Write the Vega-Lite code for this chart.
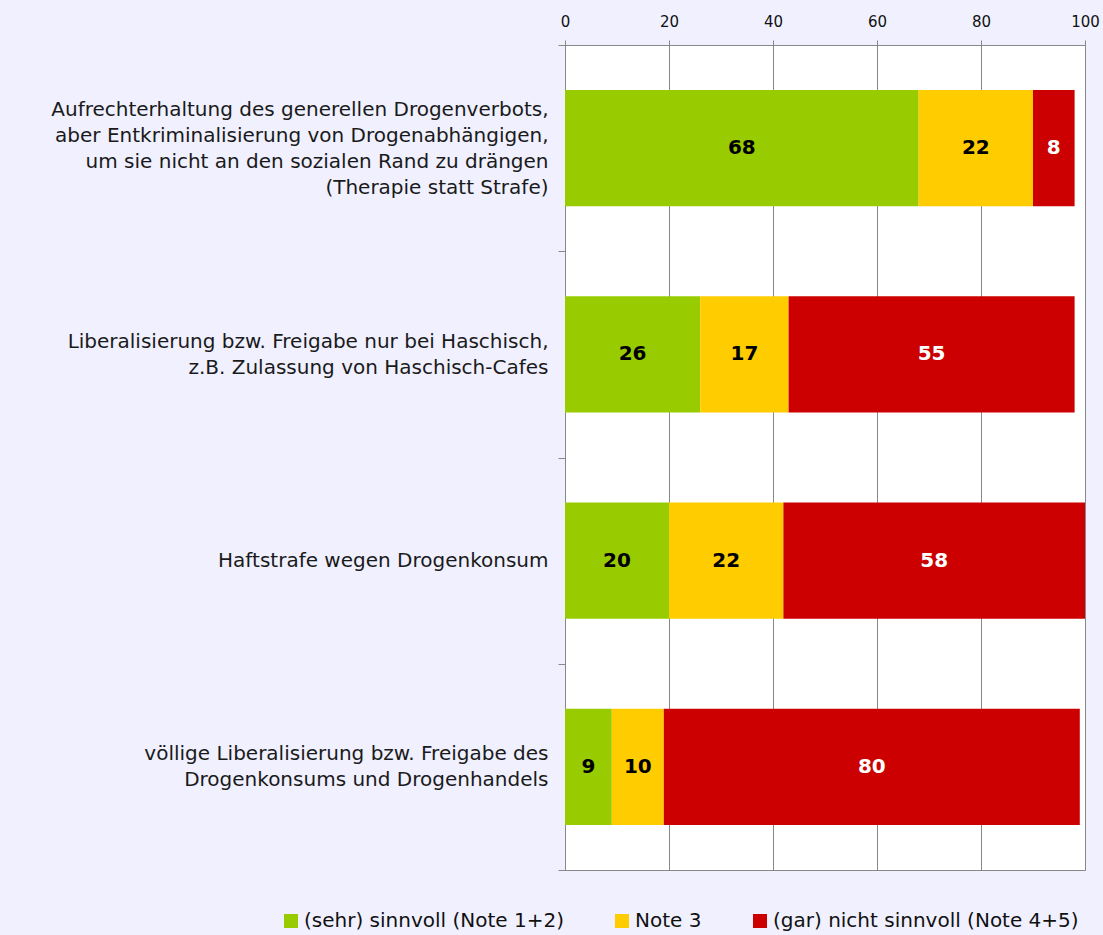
{
  "$schema": "https://vega.github.io/schema/vega-lite/v6.json",
  "width": 520,
  "height": 825,
  "autosize": "none",
  "padding": {"left": 565, "top": 45, "right": 18, "bottom": 65},
  "background": "#F0F0FF",
  "config": {
    "font": "DejaVu Sans",
    "view": {"fill": "#FFFFFF", "stroke": "#888888", "strokeWidth": 1}
  },
  "data": {
    "values": [
      {"item": "Aufrechterhaltung des generellen Drogenverbots,|aber Entkriminalisierung von Drogenabhängigen,|um sie nicht an den sozialen Rand zu drängen|(Therapie statt Strafe)", "rank": 1, "cat": "(sehr) sinnvoll (Note 1+2)", "ord": 1, "value": 68},
      {"item": "Aufrechterhaltung des generellen Drogenverbots,|aber Entkriminalisierung von Drogenabhängigen,|um sie nicht an den sozialen Rand zu drängen|(Therapie statt Strafe)", "rank": 1, "cat": "Note 3", "ord": 2, "value": 22},
      {"item": "Aufrechterhaltung des generellen Drogenverbots,|aber Entkriminalisierung von Drogenabhängigen,|um sie nicht an den sozialen Rand zu drängen|(Therapie statt Strafe)", "rank": 1, "cat": "(gar) nicht sinnvoll (Note 4+5)", "ord": 3, "value": 8},
      {"item": "Liberalisierung bzw. Freigabe nur bei Haschisch,|z.B. Zulassung von Haschisch-Cafes", "rank": 2, "cat": "(sehr) sinnvoll (Note 1+2)", "ord": 1, "value": 26},
      {"item": "Liberalisierung bzw. Freigabe nur bei Haschisch,|z.B. Zulassung von Haschisch-Cafes", "rank": 2, "cat": "Note 3", "ord": 2, "value": 17},
      {"item": "Liberalisierung bzw. Freigabe nur bei Haschisch,|z.B. Zulassung von Haschisch-Cafes", "rank": 2, "cat": "(gar) nicht sinnvoll (Note 4+5)", "ord": 3, "value": 55},
      {"item": "Haftstrafe wegen Drogenkonsum", "rank": 3, "cat": "(sehr) sinnvoll (Note 1+2)", "ord": 1, "value": 20},
      {"item": "Haftstrafe wegen Drogenkonsum", "rank": 3, "cat": "Note 3", "ord": 2, "value": 22},
      {"item": "Haftstrafe wegen Drogenkonsum", "rank": 3, "cat": "(gar) nicht sinnvoll (Note 4+5)", "ord": 3, "value": 58},
      {"item": "völlige Liberalisierung bzw. Freigabe des|Drogenkonsums und Drogenhandels", "rank": 4, "cat": "(sehr) sinnvoll (Note 1+2)", "ord": 1, "value": 9},
      {"item": "völlige Liberalisierung bzw. Freigabe des|Drogenkonsums und Drogenhandels", "rank": 4, "cat": "Note 3", "ord": 2, "value": 10},
      {"item": "völlige Liberalisierung bzw. Freigabe des|Drogenkonsums und Drogenhandels", "rank": 4, "cat": "(gar) nicht sinnvoll (Note 4+5)", "ord": 3, "value": 80}
    ]
  },
  "encoding": {
    "y": {
      "field": "item",
      "type": "nominal",
      "sort": {"field": "rank", "op": "min", "order": "ascending"},
      "scale": {"paddingInner": 0, "paddingOuter": 0},
      "axis": {
        "title": null,
        "domainColor": "#888888",
        "tickColor": "#888888",
        "tickSize": 7,
        "tickBand": "extent",
        "labelPadding": 10,
        "labelFontSize": 20,
        "labelColor": "#1A1A1A",
        "labelLineHeight": 26,
        "labelOffset": {"expr": "-(length(split(datum.value, '|')) - 1) * 13"},
        "labelLimit": 700,
        "labelExpr": "split(datum.label, '|')"
      }
    },
    "x": {
      "field": "value",
      "type": "quantitative",
      "stack": "zero",
      "scale": {"domain": [0, 100], "nice": false},
      "axis": {
        "orient": "top",
        "title": null,
        "values": [0, 20, 40, 60, 80, 100],
        "domainColor": "#888888",
        "tickColor": "#888888",
        "gridColor": "#888888",
        "gridOpacity": 1,
        "tickSize": 5,
        "labelPadding": 11,
        "labelFontSize": 15,
        "labelColor": "#111111",
        "labelFlush": false
      }
    },
    "order": {"field": "ord", "type": "quantitative"}
  },
  "layer": [
    {
      "mark": {"type": "bar", "height": {"band": 0.5625}},
      "encoding": {
        "color": {
          "field": "cat",
          "type": "nominal",
          "sort": ["(sehr) sinnvoll (Note 1+2)", "Note 3", "(gar) nicht sinnvoll (Note 4+5)"],
          "scale": {
            "domain": ["(sehr) sinnvoll (Note 1+2)", "Note 3", "(gar) nicht sinnvoll (Note 4+5)"],
            "range": ["#99CC00", "#FFCC00", "#CC0000"]
          },
          "legend": {
            "title": null,
            "orient": "none",
            "direction": "horizontal",
            "legendX": -284,
            "legendY": 866,
            "symbolType": "square",
            "symbolSize": 196,
            "symbolStrokeWidth": 0,
            "symbolOpacity": 1,
            "labelFontSize": 20,
            "labelColor": "#111111",
            "labelOffset": 3,
            "columnPadding": 48,
            "labelLimit": 400
          }
        }
      }
    },
    {
      "mark": {"type": "text", "fontWeight": "bold", "fontSize": 20},
      "encoding": {
        "x": {"field": "value", "type": "quantitative", "stack": "zero", "bandPosition": 0.5},
        "text": {"field": "value", "type": "quantitative"},
        "color": {
          "condition": {"test": "datum.ord === 3", "value": "#FFFFFF"},
          "value": "#000000"
        }
      }
    }
  ]
}
